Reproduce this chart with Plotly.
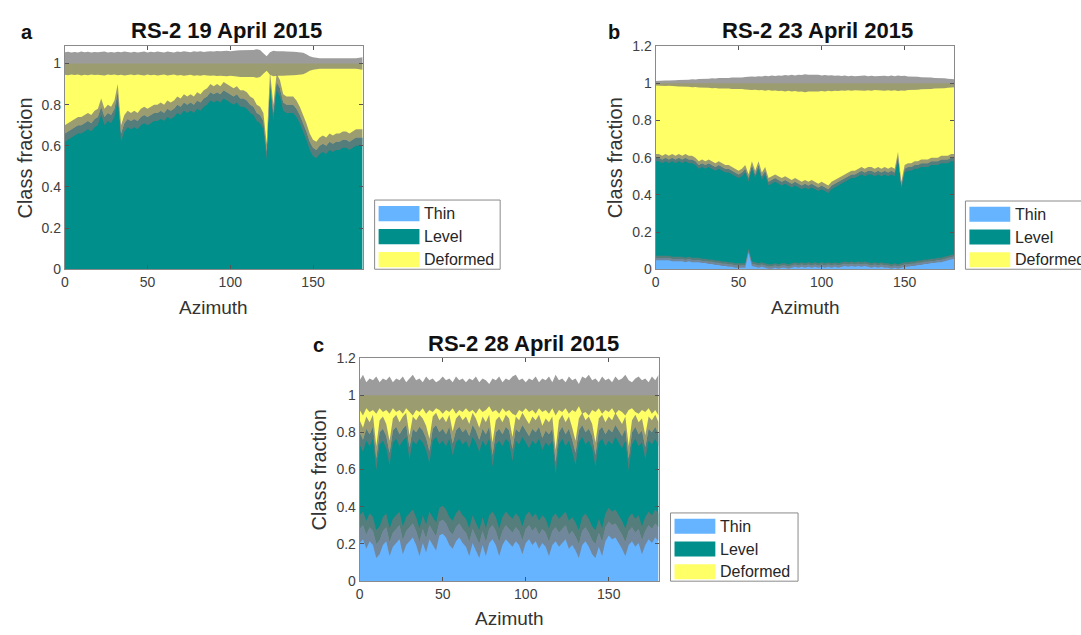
import plotly.graph_objects as go

# ---------------- data (azimuth every 2 degrees) ----------------
AZ = list(range(0, 181, 2))

# Panel a: RS-2 19 April 2015 (thin fraction is zero everywhere)
THIN_A = [0.0] * 91
THIN_LEVEL_A = [
    0.66, 0.67, 0.68, 0.69, 0.70, 0.70, 0.71, 0.72, 0.71, 0.73,
    0.74, 0.79, 0.74, 0.76, 0.75, 0.78, 0.86, 0.66, 0.71, 0.73,
    0.72, 0.73, 0.72, 0.74, 0.75, 0.74, 0.75, 0.76, 0.76, 0.77,
    0.76, 0.78, 0.77, 0.78, 0.80, 0.79, 0.81, 0.80, 0.81, 0.80,
    0.82, 0.81, 0.83, 0.84, 0.86, 0.85, 0.86, 0.85, 0.87, 0.86,
    0.85, 0.84, 0.85, 0.83, 0.83, 0.82, 0.80, 0.79, 0.76, 0.75,
    0.72, 0.57, 0.92, 0.76, 0.91, 0.88, 0.81, 0.80, 0.80, 0.80,
    0.78, 0.75, 0.71, 0.67, 0.62, 0.59, 0.58, 0.60, 0.61, 0.60,
    0.62, 0.61, 0.62, 0.62, 0.63, 0.63, 0.62, 0.63, 0.64, 0.64,
    0.64]
UNC_TOTAL_A = [
    0.055, 0.057, 0.053, 0.056, 0.054, 0.058, 0.055, 0.057, 0.053, 0.056,
    0.055, 0.057, 0.058, 0.054, 0.056, 0.053, 0.057, 0.055, 0.058, 0.056,
    0.054, 0.057, 0.053, 0.056, 0.058, 0.054, 0.057, 0.055, 0.058, 0.056,
    0.054, 0.058, 0.056, 0.054, 0.058, 0.056, 0.059, 0.057, 0.055, 0.059,
    0.057, 0.059, 0.056, 0.058, 0.060, 0.058, 0.061, 0.059, 0.061, 0.062,
    0.060, 0.063, 0.063, 0.065, 0.065, 0.067, 0.067, 0.066, 0.069, 0.066,
    0.050, 0.035, 0.055, 0.062, 0.060, 0.061, 0.059, 0.058, 0.059, 0.057,
    0.056, 0.055, 0.052, 0.045, 0.035, 0.030, 0.027, 0.026, 0.025, 0.025,
    0.024, 0.024, 0.023, 0.023, 0.023, 0.024, 0.024, 0.025, 0.026, 0.028,
    0.030]
UNC_THIN_A = None
UNC_LEVEL_A = 0.04

# Panel b: RS-2 23 April 2015
THIN_B = [
    0.060, 0.060, 0.060, 0.060, 0.060, 0.055, 0.055, 0.055, 0.055, 0.050,
    0.055, 0.050, 0.050, 0.050, 0.045, 0.045, 0.040, 0.040, 0.035, 0.035,
    0.030, 0.030, 0.025, 0.025, 0.020, 0.020, 0.020, 0.020, 0.100, 0.030,
    0.025, 0.020, 0.025, 0.020, 0.015, 0.015, 0.020, 0.015, 0.020, 0.020,
    0.015, 0.020, 0.025, 0.020, 0.025, 0.020, 0.025, 0.020, 0.025, 0.020,
    0.025, 0.020, 0.025, 0.020, 0.025, 0.020, 0.025, 0.030, 0.025, 0.030,
    0.025, 0.030, 0.025, 0.030, 0.025, 0.020, 0.025, 0.020, 0.025, 0.020,
    0.020, 0.015, 0.020, 0.015, 0.020, 0.025, 0.025, 0.030, 0.030, 0.035,
    0.035, 0.040, 0.040, 0.045, 0.045, 0.050, 0.050, 0.055, 0.060, 0.065,
    0.070]
THIN_LEVEL_B = [
    0.60, 0.60, 0.59, 0.60, 0.59, 0.60, 0.59, 0.60, 0.59, 0.60,
    0.59, 0.59, 0.58, 0.56, 0.57, 0.56, 0.57, 0.56, 0.55, 0.56,
    0.55, 0.54, 0.54, 0.53, 0.52, 0.51, 0.52, 0.54, 0.49, 0.56,
    0.51, 0.56, 0.50, 0.53, 0.47, 0.48, 0.49, 0.48, 0.47, 0.48,
    0.47, 0.46, 0.47, 0.46, 0.45, 0.46, 0.45, 0.46, 0.45, 0.44,
    0.45, 0.44, 0.43, 0.45, 0.46, 0.47, 0.48, 0.49, 0.50, 0.51,
    0.51, 0.52, 0.53, 0.52, 0.53, 0.53, 0.52, 0.53, 0.52, 0.53,
    0.52, 0.53, 0.52, 0.61, 0.45, 0.54, 0.55, 0.55, 0.56, 0.56,
    0.57, 0.57, 0.57, 0.58, 0.58, 0.58, 0.59, 0.59, 0.59, 0.60,
    0.60]
UNC_TOTAL_B = [
    0.012, 0.014, 0.013, 0.015, 0.014, 0.017, 0.016, 0.018, 0.017, 0.020,
    0.019, 0.022, 0.020, 0.023, 0.022, 0.025, 0.024, 0.027, 0.025, 0.028,
    0.027, 0.030, 0.028, 0.031, 0.030, 0.033, 0.031, 0.034, 0.033, 0.036,
    0.035, 0.038, 0.036, 0.040, 0.037, 0.041, 0.039, 0.042, 0.040, 0.044,
    0.041, 0.045, 0.042, 0.046, 0.044, 0.048, 0.045, 0.046, 0.044, 0.045,
    0.042, 0.044, 0.041, 0.043, 0.040, 0.042, 0.039, 0.041, 0.038, 0.040,
    0.038, 0.040, 0.039, 0.041, 0.038, 0.040, 0.037, 0.039, 0.038, 0.040,
    0.038, 0.041, 0.038, 0.042, 0.039, 0.040, 0.036, 0.037, 0.034, 0.035,
    0.032, 0.033, 0.030, 0.031, 0.028, 0.029, 0.026, 0.027, 0.024, 0.025,
    0.022]
UNC_THIN_B = 0.012
UNC_LEVEL_B = 0.02

# Panel c: RS-2 28 April 2015
THIN_C = [
    0.28, 0.30, 0.25, 0.29, 0.27, 0.20, 0.22, 0.27, 0.29, 0.21,
    0.26, 0.28, 0.30, 0.22, 0.27, 0.29, 0.31, 0.27, 0.21, 0.28,
    0.23, 0.30, 0.27, 0.24, 0.32, 0.33, 0.31, 0.27, 0.25, 0.29,
    0.31, 0.28, 0.26, 0.21, 0.28, 0.24, 0.20, 0.27, 0.21, 0.28,
    0.30, 0.27, 0.21, 0.27, 0.30, 0.28, 0.26, 0.29, 0.27, 0.22,
    0.28, 0.30, 0.27, 0.29, 0.25, 0.28, 0.26, 0.21, 0.27, 0.29,
    0.26, 0.28, 0.30, 0.25, 0.27, 0.24, 0.20, 0.27, 0.29, 0.26,
    0.22, 0.20, 0.26, 0.21, 0.29, 0.32, 0.30, 0.31, 0.28, 0.25,
    0.21, 0.27, 0.29, 0.26, 0.28, 0.22, 0.27, 0.30, 0.28, 0.31,
    0.29]
THIN_LEVEL_C = [
    0.80, 0.76, 0.82, 0.79, 0.83, 0.66, 0.80, 0.82, 0.78, 0.69,
    0.81, 0.83, 0.79, 0.82, 0.84, 0.72, 0.82, 0.80, 0.83, 0.81,
    0.77, 0.70, 0.82, 0.84, 0.80, 0.82, 0.79, 0.83, 0.74, 0.81,
    0.83, 0.80, 0.82, 0.78, 0.84, 0.81, 0.76, 0.82, 0.79, 0.83,
    0.68, 0.80, 0.82, 0.79, 0.83, 0.81, 0.71, 0.82, 0.80, 0.84,
    0.81, 0.78, 0.82, 0.80, 0.83, 0.77, 0.81, 0.79, 0.82, 0.64,
    0.80, 0.83, 0.79, 0.82, 0.76, 0.69, 0.81, 0.84, 0.80, 0.82,
    0.78, 0.68, 0.81, 0.83, 0.79, 0.82, 0.80, 0.84, 0.81, 0.78,
    0.82, 0.66, 0.80, 0.83, 0.79, 0.81, 0.72, 0.82, 0.80, 0.83,
    0.79]
UNC_TOTAL_C = [
    0.08, 0.11, 0.07, 0.09, 0.08, 0.10, 0.07, 0.09, 0.08, 0.10,
    0.07, 0.09, 0.08, 0.10, 0.07, 0.09, 0.11, 0.08, 0.09, 0.07,
    0.10, 0.08, 0.09, 0.07, 0.08, 0.10, 0.08, 0.09, 0.07, 0.10,
    0.08, 0.09, 0.07, 0.09, 0.08, 0.10, 0.07, 0.09, 0.08, 0.06,
    0.09, 0.08, 0.10, 0.07, 0.09, 0.08, 0.10, 0.11, 0.08, 0.09,
    0.07, 0.09, 0.08, 0.10, 0.07, 0.09, 0.08, 0.10, 0.07, 0.11,
    0.08, 0.09, 0.07, 0.10, 0.08, 0.09, 0.06, 0.10, 0.09, 0.11,
    0.08, 0.09, 0.07, 0.10, 0.08, 0.09, 0.07, 0.10, 0.08, 0.09,
    0.11, 0.08, 0.07, 0.09, 0.10, 0.08, 0.09, 0.07, 0.10, 0.08,
    0.11]
UNC_THIN_C = 0.075
UNC_LEVEL_C = 0.065

CLASSES = ["Thin", "Level", "Deformed"]
TITLES = ["RS-2 19 April 2015", "RS-2 23 April 2015", "RS-2 28 April 2015"]
LETTERS = ["a", "b", "c"]
X_TICKS = [0, 50, 100, 150]
Y_TICKS = [0, 0.2, 0.4, 0.6, 0.8, 1.0, 1.2]
Y_TICK_TEXT = ["0", "0.2", "0.4", "0.6", "0.8", "1", "1.2"]

# ---------------- style ----------------
W, H = 1081, 635
COLORS = {"Thin": "#66b3ff", "Level": "#008f8a", "Deformed": "#ffff66"}
BAND = "rgba(118,118,118,0.72)"
FONT = "Liberation Sans, Arial, sans-serif"
TXT = "#262626"


def fx(px):
    return px / W


def fy(py):
    return 1 - py / H


fig = go.Figure()


def add_panel(k, thin, thin_level, e_thin, e_level, e_total):
    sfx = "" if k == 0 else str(k + 1)
    xa, ya = "x" + sfx, "y" + sfx
    level = [c - t for c, t in zip(thin_level, thin)]
    deformed = [1 - c for c in thin_level]
    for name, vals in zip(CLASSES, [thin, level, deformed]):
        fig.add_trace(go.Scatter(
            x=AZ, y=vals, xaxis=xa, yaxis=ya, mode="lines",
            stackgroup="s" + str(k), line=dict(width=0, color=COLORS[name]),
            fillcolor=COLORS[name], showlegend=False, name=name,
            hoverinfo="skip"))
    ones = [1.0] * len(AZ)
    bands = []
    if e_thin is not None:
        bands.append((thin, [e_thin] * len(AZ)))
    bands.append((thin_level, [e_level] * len(AZ)))
    bands.append((ones, e_total))
    for center, err in bands:
        lo = [c - e for c, e in zip(center, err)]
        hi = [c + e for c, e in zip(center, err)]
        fig.add_trace(go.Scatter(x=AZ, y=lo, xaxis=xa, yaxis=ya, mode="lines",
                                 line=dict(width=0), showlegend=False,
                                 hoverinfo="skip"))
        fig.add_trace(go.Scatter(x=AZ, y=hi, xaxis=xa, yaxis=ya, mode="lines",
                                 line=dict(width=0), fill="tonexty",
                                 fillcolor=BAND, showlegend=False,
                                 hoverinfo="skip"))


add_panel(0, THIN_A, THIN_LEVEL_A, UNC_THIN_A, UNC_LEVEL_A, UNC_TOTAL_A)
add_panel(1, THIN_B, THIN_LEVEL_B, UNC_THIN_B, UNC_LEVEL_B, UNC_TOTAL_B)
add_panel(2, THIN_C, THIN_LEVEL_C, UNC_THIN_C, UNC_LEVEL_C, UNC_TOTAL_C)

# plot areas in pixels: (left, right, top, bottom)
BOXES = [(61, 360, 39, 268), (654, 954, 39, 268), (357, 657, 359, 588)]
YMAX = [1.085, 1.2, 1.2]

layout = dict(width=W, height=H, margin=dict(l=0, r=0, t=0, b=0),
              paper_bgcolor="white", plot_bgcolor="white",
              font=dict(family=FONT, color=TXT), showlegend=False)
for k, (l, r, t, b) in enumerate(BOXES):
    sfx = "" if k == 0 else str(k + 1)
    nt = 6 if k == 0 else 7
    common = dict(showline=True, linecolor="#8a8a8a", linewidth=1,
                  mirror="ticks", ticks="inside", ticklen=4,
                  tickcolor="#555555", showgrid=False, zeroline=False,
                  tickfont=dict(size=14, color="#404040", family=FONT))
    layout["xaxis" + sfx] = dict(domain=[fx(l), fx(r)], range=[0, 180],
                                 tickvals=X_TICKS, anchor="y" + sfx, **common)
    layout["yaxis" + sfx] = dict(domain=[fy(b), fy(t)], range=[0, YMAX[k]],
                                 tickvals=Y_TICKS[:nt],
                                 ticktext=Y_TICK_TEXT[:nt],
                                 anchor="x" + sfx, **common)
fig.update_layout(**layout)

ann = []
shapes = []
TITLE_POS = [(223, 23), (817, 23), (521, 344)]
LETTER_POS = [(23, 25), (612, 25), (316, 346)]
YLAB_X = [21, 613, 316]
XLAB_Y = [307, 307, 626]
for k, (l, r, t, b) in enumerate(BOXES):
    tx, ty = TITLE_POS[k]
    ann.append(dict(x=fx(tx), y=fy(ty), xref="paper", yref="paper",
                    text="<b>" + TITLES[k] + "</b>", showarrow=False,
                    font=dict(size=22, color="#111111"),
                    xanchor="center", yanchor="middle"))
    lx, ly = LETTER_POS[k]
    ann.append(dict(x=fx(lx), y=fy(ly), xref="paper", yref="paper",
                    text="<b>" + LETTERS[k] + "</b>", showarrow=False,
                    font=dict(size=20, color="#111111"),
                    xanchor="center", yanchor="middle"))
    ann.append(dict(x=fx(YLAB_X[k]), y=fy((t + b) / 2), xref="paper",
                    yref="paper", text="Class fraction", showarrow=False,
                    textangle=-90, font=dict(size=20, color="#333333"),
                    xanchor="center", yanchor="middle"))
    ann.append(dict(x=fx((l + r) / 2), y=fy(XLAB_Y[k]), xref="paper",
                    yref="paper", text="Azimuth", showarrow=False,
                    font=dict(size=19, color="#333333"),
                    xanchor="center", yanchor="middle"))

# legends drawn as boxes: (left, top, right, bottom)
LEG = [(372, 197, 498, 268), (965, 198, 1090, 268), (669, 518, 797, 588)]
for (l, t, r, b) in LEG:
    shapes.append(dict(type="rect", xref="paper", yref="paper",
                       x0=fx(l), x1=fx(r), y0=fy(b), y1=fy(t),
                       line=dict(color="#8a8a8a", width=1),
                       fillcolor="white", layer="above"))
    rowh = (b - t) / 3
    for i, name in enumerate(CLASSES):
        y0 = t + 5 + i * rowh + 1
        y1 = y0 + rowh - 8
        shapes.append(dict(type="rect", xref="paper", yref="paper",
                           x0=fx(l + 4), x1=fx(l + 45), y0=fy(y1), y1=fy(y0),
                           line=dict(width=0), fillcolor=COLORS[name],
                           layer="above"))
        ann.append(dict(x=fx(l + 48), y=fy((y0 + y1) / 2), xref="paper",
                        yref="paper", text=name, showarrow=False,
                        font=dict(size=16, color="#262626"),
                        xanchor="left", yanchor="middle"))

fig.update_layout(annotations=ann, shapes=shapes)
fig.write_html("out.html", config={"displayModeBar": False},
               post_script="document.body.style.margin='0px';"
                           "document.body.style.overflow='hidden';")
